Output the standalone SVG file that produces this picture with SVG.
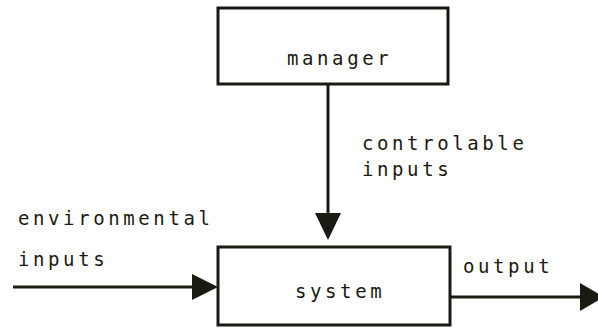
<svg xmlns="http://www.w3.org/2000/svg" width="598" height="330" viewBox="0 0 598 330">
<style>
.box{fill:#fff;stroke:#1a1a12;stroke-width:3}
.ln{stroke:#1a1a12;stroke-width:3;fill:none}
.ah{fill:#1a1a12}
text{font-family:"DejaVu Sans Mono","Liberation Mono",monospace;font-size:19px;letter-spacing:3.6px;fill:#1a1a12}
</style>
<rect width="598" height="330" fill="#fff"/>
<g id="connectors">
<line class="ln" x1="328" y1="84" x2="328" y2="215"/>
<polygon class="ah" points="315,213 341,213 328,240"/>
<line class="ln" x1="13" y1="287" x2="195" y2="287"/>
<polygon class="ah" points="192,274 192,300 218,287"/>
<line class="ln" x1="450" y1="297" x2="584" y2="297"/>
<polygon class="ah" points="580,283 580,311 604,297"/>
<text x="362" y="150">controlable</text>
<text x="362" y="176">inputs</text>
<text x="18" y="225">environmental</text>
<text x="18" y="266">inputs</text>
<text x="463" y="273">output</text>
</g>
<g id="manager">
<rect class="box" x="218" y="8" width="230" height="76"/>
<text x="287" y="65">manager</text>
</g>
<g id="system">
<rect class="box" x="218" y="247" width="232" height="78"/>
<text x="295" y="298">system</text>
</g>
</svg>
